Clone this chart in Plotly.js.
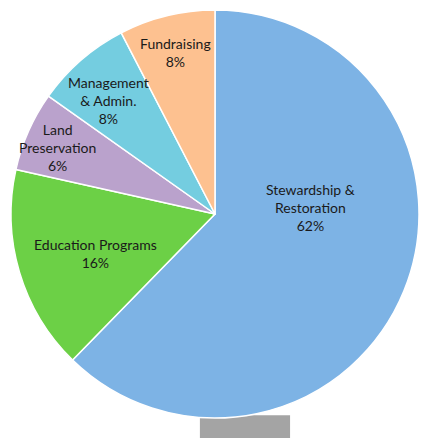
<!DOCTYPE html>
<html>
<head>
<meta charset="utf-8">
<script src="https://cdn.plot.ly/plotly-3.0.1.min.js"></script>
<style>html,body{margin:0;padding:0;background:#fff;}#chart{width:422px;height:438px;}</style>
</head>
<body>
<div id="chart"></div>
<script>
var categories = ["Stewardship &<br>Restoration", "Education Programs", "Land<br>Preservation", "Management<br>& Admin.", "Fundraising"];
var values = [62.3, 16.2, 6.3, 7.6, 7.6];
var colors = ["#7DB3E5", "#6CD046", "#BAA2CC", "#74CDE0", "#FDC190"];
// label anchor points (paper coordinates) for the in-slice text
var labelX = [0.733, 0.206, 0.115, 0.240, 0.402];
var labelY = [0.515, 0.404, 0.664, 0.779, 0.897];

var total = values.reduce(function(a, b){ return a + b; }, 0);

var trace = {
  type: "pie",
  labels: categories,
  values: values,
  sort: false,
  direction: "clockwise",
  rotation: 0,
  marker: {colors: colors, line: {color: "#ffffff", width: 1.5}},
  textinfo: "none",
  hoverinfo: "none"
};

var annotations = categories.map(function(c, i){
  return {
    xref: "paper", yref: "paper",
    x: labelX[i], y: labelY[i],
    xanchor: "center", yanchor: "middle",
    showarrow: false,
    align: "center",
    text: c + "<br>" + Math.round(values[i] / total * 100) + "%",
    font: {family: "Lato, 'Open Sans', sans-serif", size: 14, color: "#1a1a1a"}
  };
});

var layout = {
  width: 422, height: 438,
  margin: {l: 11, r: 3, t: 10, b: 20},
  showlegend: false,
  paper_bgcolor: "#ffffff",
  annotations: annotations,
  shapes: [{type: "rect", xref: "paper", yref: "paper", x0: 0.463, x1: 0.684, y0: -0.049, y1: 0.007,
            fillcolor: "#a4a4a4", line: {width: 0}, layer: "below"}]
};

Plotly.newPlot("chart", [trace], layout, {displayModeBar: false, staticPlot: true});
</script>
</body>
</html>
